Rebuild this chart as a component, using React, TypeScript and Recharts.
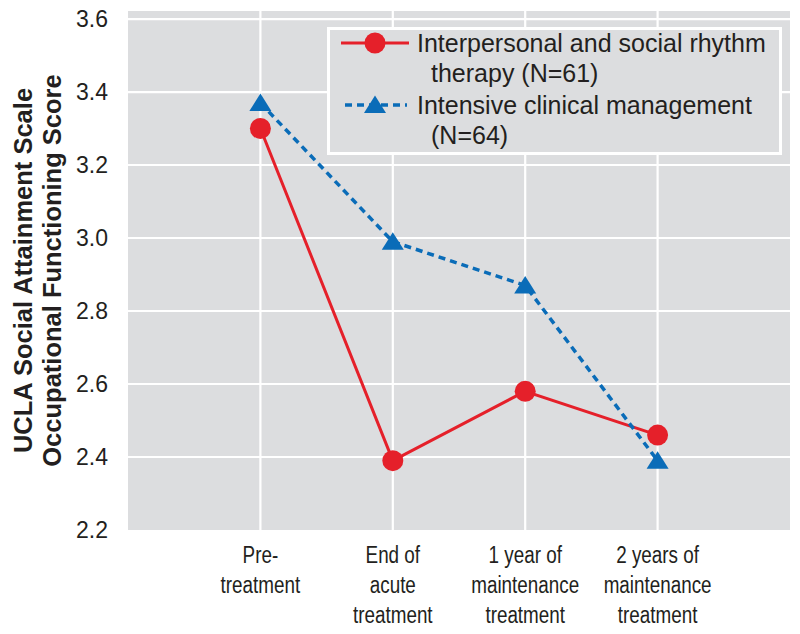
import { LineChart, Line, XAxis, YAxis, CartesianGrid, Legend } from "recharts";

const categories = ["Pre-treatment", "End of acute treatment", "1 year of maintenance treatment", "2 years of maintenance treatment"];
const tickLines = [
  ["Pre-", "treatment"],
  ["End of", "acute", "treatment"],
  ["1 year of", "maintenance", "treatment"],
  ["2 years of", "maintenance", "treatment"],
];
const ipsrt = [3.3, 2.39, 2.58, 2.46];
const icm = [3.37, 2.99, 2.87, 2.39];
const yTicks = [2.2, 2.4, 2.6, 2.8, 3.0, 3.2, 3.4, 3.6];
const ipsrtLegend = ["Interpersonal and social rhythm", "therapy (N=61)"];
const icmLegend = ["Intensive clinical management", "(N=64)"];

const RED = "#e5202a";
const BLUE = "#0a6cb8";
const BG = "#dcdddf";
const INK = "#231f20";
const FONT = "'Liberation Sans', sans-serif";

const data = categories.map((c, i) => ({ pos: i + 1, category: c, ipsrt: ipsrt[i], icm: icm[i] }));

// condensed look of the original labels: squeeze Liberation Sans horizontally
const XTick = (props: any) => {
  const { x, y, payload } = props;
  const lines = tickLines[payload.value - 1] || [];
  return (
    <g transform={`translate(${x},${y})`}>
      <text transform="scale(0.82,1)" textAnchor="middle" fill={INK} fontSize={23} fontFamily={FONT}>
        {lines.map((l, i) => (
          <tspan key={i} x={0} dy={i === 0 ? 33 : 30}>
            {l}
          </tspan>
        ))}
      </text>
    </g>
  );
};

const YTick = (props: any) => {
  const { x, y, payload } = props;
  return (
    <text x={x} y={y} dy="0.36em" textAnchor="end" fill={INK} fontSize={23} fontFamily={FONT}>
      {Number(payload.value).toFixed(1)}
    </text>
  );
};

const YTitle = (props: any) => {
  const vb = props.viewBox || {};
  const cy = vb.y + vb.height / 2;
  const style = { fontFamily: FONT, fontSize: 25.5, fontWeight: 700, fill: INK };
  return (
    <g>
      <text transform={`translate(32, ${cy}) rotate(-90)`} textAnchor="middle" style={style}>
        UCLA Social Attainment Scale
      </text>
      <text transform={`translate(61, ${cy}) rotate(-90)`} textAnchor="middle" style={style}>
        Occupational Functioning Score
      </text>
    </g>
  );
};

const Triangle = (props: any) => {
  const { cx, cy, index } = props;
  if (cx == null || cy == null) return <g key={index} />;
  return <polygon key={index} points={`${cx},${cy - 9.5} ${cx - 11},${cy + 8} ${cx + 11},${cy + 8}`} fill={BLUE} />;
};

const LegendBox = () => {
  const entries = [
    {
      lines: ipsrtLegend,
      icon: (
        <svg width={70} height={24}>
          <line x1={0} y1={12} x2={68} y2={12} stroke={RED} strokeWidth={3} />
          <circle cx={34} cy={12} r={10.5} fill={RED} />
        </svg>
      ),
    },
    {
      lines: icmLegend,
      icon: (
        <svg width={70} height={24}>
          <line x1={4} y1={12} x2={66} y2={12} stroke={BLUE} strokeWidth={3.5} strokeDasharray="7 5" />
          <polygon points="34,2.5 23,20 45,20" fill={BLUE} />
        </svg>
      ),
    },
  ];
  return (
    <div
      style={{
        position: "relative",
        width: 455,
        height: 128,
        boxSizing: "border-box",
        border: "3px solid #ffffff",
        background: BG,
        fontFamily: FONT,
        fontSize: 25,
        color: INK,
      }}
    >
      {entries.map((e, i) => (
        <div key={i} style={{ position: "absolute", left: 0, top: -2 + i * 62, width: "100%" }}>
          <div style={{ position: "absolute", left: 11, top: 3 }}>{e.icon}</div>
          <div style={{ marginLeft: 87, lineHeight: "30px", whiteSpace: "nowrap" }}>
            <div>{e.lines[0]}</div>
            <div style={{ paddingLeft: 14 }}>{e.lines[1]}</div>
          </div>
        </div>
      ))}
    </div>
  );
};

export default function App() {
  return (
    <div style={{ position: "absolute", left: 0, top: 0, width: 800, height: 634, background: "#fff" }}>
      <LineChart width={800} height={634} data={data} margin={{ top: 11, right: 10, bottom: 0, left: 0 }}>
        <CartesianGrid
          fill={BG}
          stroke="#ffffff"
          strokeWidth={2.2}
          horizontalValues={[2.4, 2.6, 2.8, 3.0, 3.2, 3.4, 3.6]}
          verticalValues={[1, 2, 3, 4]}
        />
        <XAxis
          dataKey="pos"
          type="number"
          domain={[0, 5]}
          ticks={[1, 2, 3, 4]}
          interval={0}
          axisLine={false}
          tickLine={false}
          tickSize={0}
          tickMargin={0}
          height={104}
          tick={<XTick />}
        />
        <YAxis
          type="number"
          domain={[2.2, 3.622]}
          ticks={yTicks}
          interval={0}
          width={128}
          axisLine={false}
          tickLine={false}
          tickSize={0}
          tickMargin={20}
          tick={<YTick />}
          label={<YTitle />}
        />
        <Legend
          layout="horizontal"
          verticalAlign="middle"
          align="center"
          wrapperStyle={{ top: 27, left: 327, width: 455 }}
          content={<LegendBox />}
        />
        <Line
          dataKey="ipsrt"
          name="Interpersonal and social rhythm therapy (N=61)"
          stroke={RED}
          strokeWidth={3}
          dot={{ r: 10.5, fill: RED, stroke: "none" }}
          activeDot={false}
          isAnimationActive={false}
        />
        <Line
          dataKey="icm"
          name="Intensive clinical management (N=64)"
          stroke={BLUE}
          strokeWidth={3.5}
          strokeDasharray="7 5"
          dot={(p: any) => <Triangle {...p} />}
          activeDot={false}
          isAnimationActive={false}
        />
      </LineChart>
    </div>
  );
}
